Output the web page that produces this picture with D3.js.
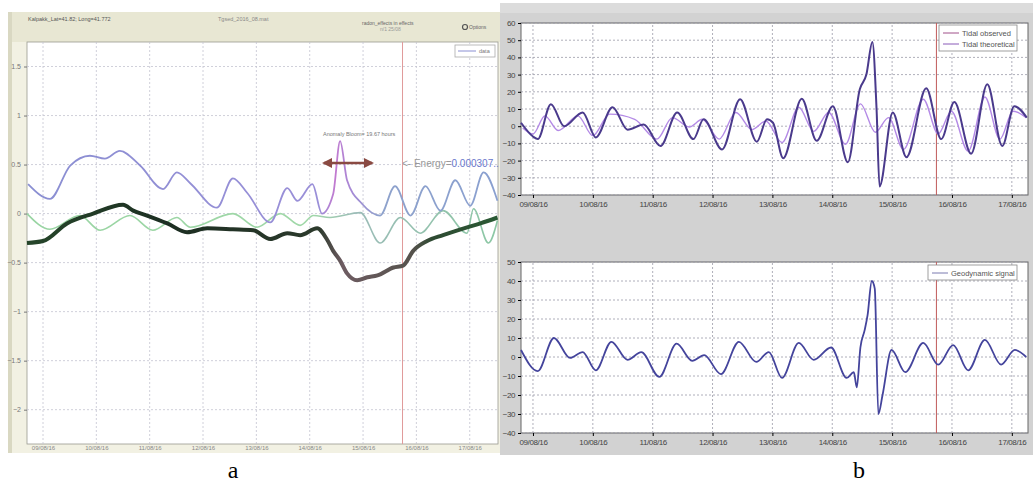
<!DOCTYPE html>
<html>
<head>
<meta charset="utf-8">
<script src="https://cdn.jsdelivr.net/npm/d3@7"></script>
<style>
body { margin:0; background:#fff; }
svg { display:block; font-family:"Liberation Sans", Arial, sans-serif; }
</style>
</head>
<body>
<svg id="fig" width="1033" height="485"></svg>
<script>
// shared day ticks
const dayLabels = ["09/08/16","10/08/16","11/08/16","12/08/16","13/08/16","14/08/16","15/08/16","16/08/16","17/08/16"];
const markerDay = 6.74;

// panel a, [days after 09/08/16, value]
const aTicks = [1.5, 1, 0.5, 0, -0.5, -1, -1.5, -2];
const aBlue = [[-0.28,0.30],[0.13,0.15],[0.51,0.49],[0.88,0.59],[1.16,0.56],[1.44,0.64],[1.82,0.49],[2.25,0.25],[2.51,0.42],[2.76,0.31],
  [3.26,0.06],[3.56,0.36],[3.83,0.21],[4.26,-0.09],[4.58,0.26],[4.77,0.13],[5.05,0.30],[5.23,0.0],[5.44,0.20],[5.57,0.74],
  [5.70,0.34],[5.98,0.10],[6.32,-0.02],[6.60,0.28],[6.89,-0.02],[7.17,0.28],[7.45,0.03],[7.73,0.34],[8.01,0.08],[8.26,0.42],[8.52,0.13]];
const aGreen = [[-0.30,0.0],[0.13,-0.16],[0.69,-0.02],[1.07,-0.17],[1.63,-0.02],[2.06,-0.17],[2.51,-0.04],[2.76,-0.14],[3.56,0.0],
  [4.01,-0.14],[4.45,0.0],[4.82,-0.12],[5.07,-0.02],[5.38,-0.04],[5.95,0.01],[6.32,-0.30],[6.70,-0.04],[7.07,-0.20],[7.50,0.03],
  [7.95,-0.20],[8.07,0.05],[8.35,-0.30],[8.52,-0.07]];
const aDark = [[-0.30,-0.30],[0.0,-0.28],[0.45,-0.10],[0.94,0.0],[1.50,0.09],[1.69,0.03],[1.95,-0.02],[2.33,-0.10],[2.70,-0.19],
  [3.08,-0.15],[3.56,-0.16],[3.94,-0.17],[4.26,-0.26],[4.58,-0.20],[4.82,-0.22],[5.14,-0.15],[5.33,-0.27],[5.44,-0.38],[5.57,-0.48],
  [5.70,-0.61],[5.89,-0.68],[6.08,-0.65],[6.27,-0.63],[6.57,-0.55],[6.75,-0.53],[6.94,-0.38],[7.20,-0.28],[7.50,-0.22],[7.95,-0.14],
  [8.20,-0.10],[8.52,-0.04]];

// panel b
const bTopTicks = [60, 50, 40, 30, 20, 10, 0, -10, -20, -30, -40];
const tidalObserved = [[-0.20,2],[0,-6],[0.08,-7.5],[0.30,12.8],[0.52,0],[0.83,8],[1.05,-6.5],[1.33,11],[1.58,-2],[1.85,1],
  [2.13,-11.5],[2.41,8],[2.68,-7.5],[2.85,4],[3.16,-13.5],[3.46,15.7],[3.74,-9],[3.91,4],[4.01,2],[4.18,-18.6],[4.49,16],
  [4.74,-8.5],[5.01,11.6],[5.26,-21],[5.46,21.5],[5.57,30],[5.67,49],[5.74,10],[5.79,-35],[6.01,8],[6.24,-18],[6.57,22],
  [6.82,-7.5],[7.04,14],[7.32,-16],[7.59,24.4],[7.84,-11.5],[8.04,11.6],[8.25,5]];
const tidalTheoretical = [[-0.17,-1],[0,-4.5],[0.20,6],[0.42,-2.5],[0.75,6],[1.00,-5.5],[1.28,7],[1.70,4],[2.07,-7.5],[2.33,5],
  [2.61,-0.5],[2.83,4],[3.11,-7.5],[3.39,8],[3.66,-2],[3.89,3],[4.16,-9.5],[4.44,11],[4.69,-3],[4.94,8],[5.22,-10.5],[5.47,13],
  [5.72,-3.5],[5.94,5],[6.19,-13.5],[6.52,15.7],[6.77,-4.5],[6.99,8.7],[7.27,-14.5],[7.55,17],[7.80,-7.5],[8.02,8.7],[8.24,5]];
const bBotTicks = [50, 40, 30, 20, 10, 0, -10, -20, -30, -40];
const geodynamic = [[-0.20,3.7],[0.08,-7.4],[0.35,10],[0.62,-0.5],[0.83,2.6],[1.05,-7],[1.31,8],[1.58,-1.5],[1.81,2.6],[2.11,-10.5],
  [2.40,7],[2.66,-2],[2.86,1],[3.14,-9],[3.44,8],[3.73,-2.6],[3.94,2.6],[4.16,-11],[4.44,7.4],[4.69,-1.5],[4.98,5],[5.24,-11],
  [5.36,-8],[5.41,-16],[5.47,5],[5.54,14],[5.59,22],[5.66,40],[5.71,36],[5.77,-30],[5.84,-20],[5.99,3.7],[6.22,-8],[6.52,7.4],
  [6.77,-4],[7.02,6.3],[7.27,-7],[7.55,9],[7.82,-4],[8.05,3.7],[8.24,0]];

const parseDay = d3.timeParse("%d/%m/%y");
const t0 = parseDay(dayLabels[0]);
const toDate = d => new Date(t0.getTime() + d * 864e5);
const dayTicks = dayLabels.map(parseDay);

const svg = d3.select("#fig");
const defs = svg.append("defs");

function gradient(id, x1, x2, stops)
{
    const g = defs.append("linearGradient").attr("id", id)
        .attr("gradientUnits", "userSpaceOnUse")
        .attr("x1", x1).attr("x2", x2).attr("y1", 0).attr("y2", 0);
    stops.forEach(s => g.append("stop").attr("offset", s[0]).attr("stop-color", s[1]));
}

function grid(g, x, y, xt, yt, color)
{
    const [x0, x1] = x.range(), [y0, y1] = y.range();
    g.append("g").selectAll("line").data(xt).join("line")
        .attr("x1", d => x(d)).attr("x2", d => x(d)).attr("y1", y0).attr("y2", y1)
        .attr("stroke", color).attr("stroke-dasharray", "2,2").attr("stroke-width", 0.8);
    g.append("g").selectAll("line").data(yt).join("line")
        .attr("x1", x0).attr("x2", x1).attr("y1", d => y(d)).attr("y2", d => y(d))
        .attr("stroke", color).attr("stroke-dasharray", "2,2").attr("stroke-width", 0.8);
}

function series(g, data, x, y, stroke, width)
{
    g.append("path").datum(data)
        .attr("fill", "none").attr("stroke", stroke).attr("stroke-width", width)
        .attr("stroke-linejoin", "round")
        .attr("d", d3.line().x(d => x(toDate(d[0]))).y(d => y(d[1])).curve(d3.curveMonotoneX));
}

// ---------- panel a ----------
const xA = d3.scaleTime().domain([toDate(-0.30), toDate(8.53)]).range([27, 498]);
const yA = d3.scaleLinear().domain([-2.35, 1.75]).range([444, 42]);

const pa = svg.append("g");
pa.append("rect").attr("x", 8).attr("y", 12).attr("width", 492).attr("height", 441).attr("fill", "#f2f1e3");
pa.append("rect").attr("x", 8).attr("y", 12).attr("width", 492).attr("height", 30).attr("fill", "#e8e7d3");
pa.append("rect").attr("x", 8).attr("y", 12).attr("width", 4).attr("height", 441).attr("fill", "#d9d8c2");
pa.append("rect").attr("x", 27).attr("y", 42).attr("width", 471).attr("height", 402)
    .attr("fill", "#fff").attr("stroke", "#9a9a90").attr("stroke-width", 0.8);
grid(pa, xA, yA, dayTicks, aTicks, "#c4c4d0");

pa.append("g").attr("transform", "translate(27,0)")
    .call(d3.axisLeft(yA).tickValues(aTicks).tickSize(3).tickFormat(d3.format("")))
    .call(a => a.select(".domain").remove())
    .call(a => a.selectAll("line").attr("stroke", "#777"))
    .call(a => a.selectAll("text").attr("font-size", 7).attr("fill", "#777"));
pa.append("g").attr("transform", "translate(0,444)")
    .call(d3.axisBottom(xA).tickValues(dayTicks).tickSize(0).tickPadding(2).tickFormat(d3.timeFormat("%d/%m/%y")))
    .call(a => a.select(".domain").remove())
    .call(a => a.selectAll("text").attr("font-size", 6).attr("fill", "#888"));

pa.append("line").attr("x1", xA(toDate(markerDay))).attr("x2", xA(toDate(markerDay)))
    .attr("y1", 42).attr("y2", 444).attr("stroke", "#e09a9a").attr("stroke-width", 1);

gradient("gBlue", 27, 498, [[0, "#8a8fd2"], [0.62, "#9a8fd8"], [0.655, "#c27ad0"], [0.69, "#a58ad6"], [0.75, "#8ea2cc"], [1, "#8aa0d0"]]);
gradient("gGreen", 27, 498, [[0, "#98d4a2"], [0.6, "#a0d8a8"], [0.7, "#9cbcb8"], [1, "#8cc8a4"]]);
gradient("gDark", 27, 498, [[0, "#26462a"], [0.3, "#1c2e22"], [0.62, "#2c3a2c"], [0.67, "#6e5c62"], [0.82, "#55524c"], [0.86, "#2e4a32"], [1, "#2a5a34"]]);

series(pa, aGreen, xA, yA, "url(#gGreen)", 1.6);
series(pa, aBlue, xA, yA, "url(#gBlue)", 1.8);
series(pa, aDark, xA, yA, "url(#gDark)", 4);

// annotation
pa.append("text").attr("x", 323).attr("y", 136).attr("font-size", 5.5).attr("fill", "#777")
    .text("Anomaly Bloom= 19.67 hours");
defs.append("marker").attr("id", "arr").attr("viewBox", "0 0 10 10").attr("refX", 8).attr("refY", 5)
    .attr("markerWidth", 4).attr("markerHeight", 4).attr("orient", "auto-start-reverse")
    .append("path").attr("d", "M0,0L10,5L0,10z").attr("fill", "#8a4a42");
pa.append("line").attr("x1", 324).attr("x2", 372).attr("y1", 163).attr("y2", 163)
    .attr("stroke", "#8a4a42").attr("stroke-width", 2.5)
    .attr("marker-start", "url(#arr)").attr("marker-end", "url(#arr)");
const en = pa.append("text").attr("x", 402).attr("y", 167).attr("font-size", 10);
en.append("tspan").attr("fill", "#999").text("<- Energy=");
en.append("tspan").attr("fill", "#6a78cc").text("0.000307..");

// header
pa.append("text").attr("x", 28).attr("y", 21).attr("font-size", 5.5).attr("fill", "#555").text("Kalpakk_Lat=41.82; Long=41.772");
pa.append("text").attr("x", 218).attr("y", 21).attr("font-size", 5.5).attr("fill", "#888").text("Tgsed_2016_08.mat");
pa.append("text").attr("x", 362).attr("y", 25).attr("font-size", 5).attr("fill", "#666").text("radon_effects in effects");
pa.append("text").attr("x", 380).attr("y", 31).attr("font-size", 5).attr("fill", "#999").text("n/1      25/08");
pa.append("circle").attr("cx", 465).attr("cy", 27).attr("r", 2.5).attr("fill", "none").attr("stroke", "#555").attr("stroke-width", 1.2);
pa.append("text").attr("x", 469).attr("y", 29).attr("font-size", 5).attr("fill", "#666").text("Options");

// legend a
pa.append("rect").attr("x", 455).attr("y", 45).attr("width", 40).attr("height", 12)
    .attr("fill", "#fff").attr("stroke", "#aaa").attr("stroke-width", 0.8);
pa.append("line").attr("x1", 458).attr("x2", 476).attr("y1", 51).attr("y2", 51).attr("stroke", "#8a8fd2");
pa.append("text").attr("x", 479).attr("y", 53).attr("font-size", 5.5).attr("fill", "#777").text("data");

// ---------- panel b ----------
const pb = svg.append("g");
pb.append("rect").attr("x", 500).attr("y", 3).attr("width", 533).attr("height", 452).attr("fill", "#d2d2d2");
pb.append("rect").attr("x", 500).attr("y", 3).attr("width", 533).attr("height", 10).attr("fill", "#dcdcdc");

const xB = d3.scaleTime().domain([toDate(-0.20), toDate(8.27)]).range([521, 1028]);
const yB1 = d3.scaleLinear().domain([-40, 60]).range([195, 23]);
const yB2 = d3.scaleLinear().domain([-40, 50]).range([433, 262]);

function bChart(y, ticks, drawLines, legend)
{
    const g = pb.append("g");
    const [yb, yt] = y.range();
    g.append("rect").attr("x", 521).attr("y", yt).attr("width", 507).attr("height", yb - yt)
        .attr("fill", "#fff").attr("stroke", "#666").attr("stroke-width", 1);
    grid(g, xB, y, dayTicks, ticks, "#9a9aa8");
    g.append("line").attr("x1", xB(toDate(markerDay))).attr("x2", xB(toDate(markerDay)))
        .attr("y1", yt).attr("y2", yb).attr("stroke", "#c05a5a").attr("stroke-width", 1);
    g.append("g").attr("transform", "translate(521,0)")
        .call(d3.axisLeft(y).tickValues(ticks).tickSize(3).tickFormat(d3.format("")))
        .call(a => a.select(".domain").remove())
        .call(a => a.selectAll("text").attr("font-size", 8).attr("fill", "#444").attr("letter-spacing", -0.4));
    g.append("g").attr("transform", `translate(0,${yb})`)
        .call(d3.axisBottom(xB).tickValues(dayTicks).tickSize(3).tickFormat(d3.timeFormat("%d/%m/%y")))
        .call(a => a.select(".domain").remove())
        .call(a => a.selectAll("text").attr("font-size", 8).attr("fill", "#444").attr("letter-spacing", -0.4));
    drawLines(g);
    const lg = g.append("g");
    lg.append("rect").attr("x", legend.x).attr("y", yt + legend.dy).attr("width", legend.w).attr("height", legend.items.length * 11 + 4)
        .attr("fill", "#fff").attr("stroke", "#888").attr("stroke-width", 0.8);
    legend.items.forEach((it, i) => {
        const yy = yt + legend.dy + 8 + i * 11;
        lg.append("line").attr("x1", legend.x + 4).attr("x2", legend.x + 20).attr("y1", yy).attr("y2", yy).attr("stroke", it[1]);
        lg.append("text").attr("x", legend.x + 23).attr("y", yy + 3).attr("font-size", 7.5).attr("fill", "#555").text(it[0]);
    });
}

bChart(yB1, bTopTicks, g => {
    series(g, tidalTheoretical, xB, yB1, "#b48ae6", 1.4);
    series(g, tidalObserved, xB, yB1, "#4a3a8c", 2);
}, { x: 939, dy: 2, w: 78, items: [["Tidal observed", "#a0508a"], ["Tidal theoretical", "#8a5ab8"]] });

bChart(yB2, bBotTicks, g => {
    series(g, geodynamic, xB, yB2, "#44449c", 1.8);
}, { x: 928, dy: 3, w: 89, items: [["Geodynamic signal", "#7a7ab0"]] });

// panel captions
svg.append("text").attr("x", 233).attr("y", 478).attr("font-family", "Liberation Serif, serif")
    .attr("font-size", 24).attr("text-anchor", "middle").text("a");
svg.append("text").attr("x", 859).attr("y", 478).attr("font-family", "Liberation Serif, serif")
    .attr("font-size", 24).attr("text-anchor", "middle").text("b");
</script>
</body>
</html>
